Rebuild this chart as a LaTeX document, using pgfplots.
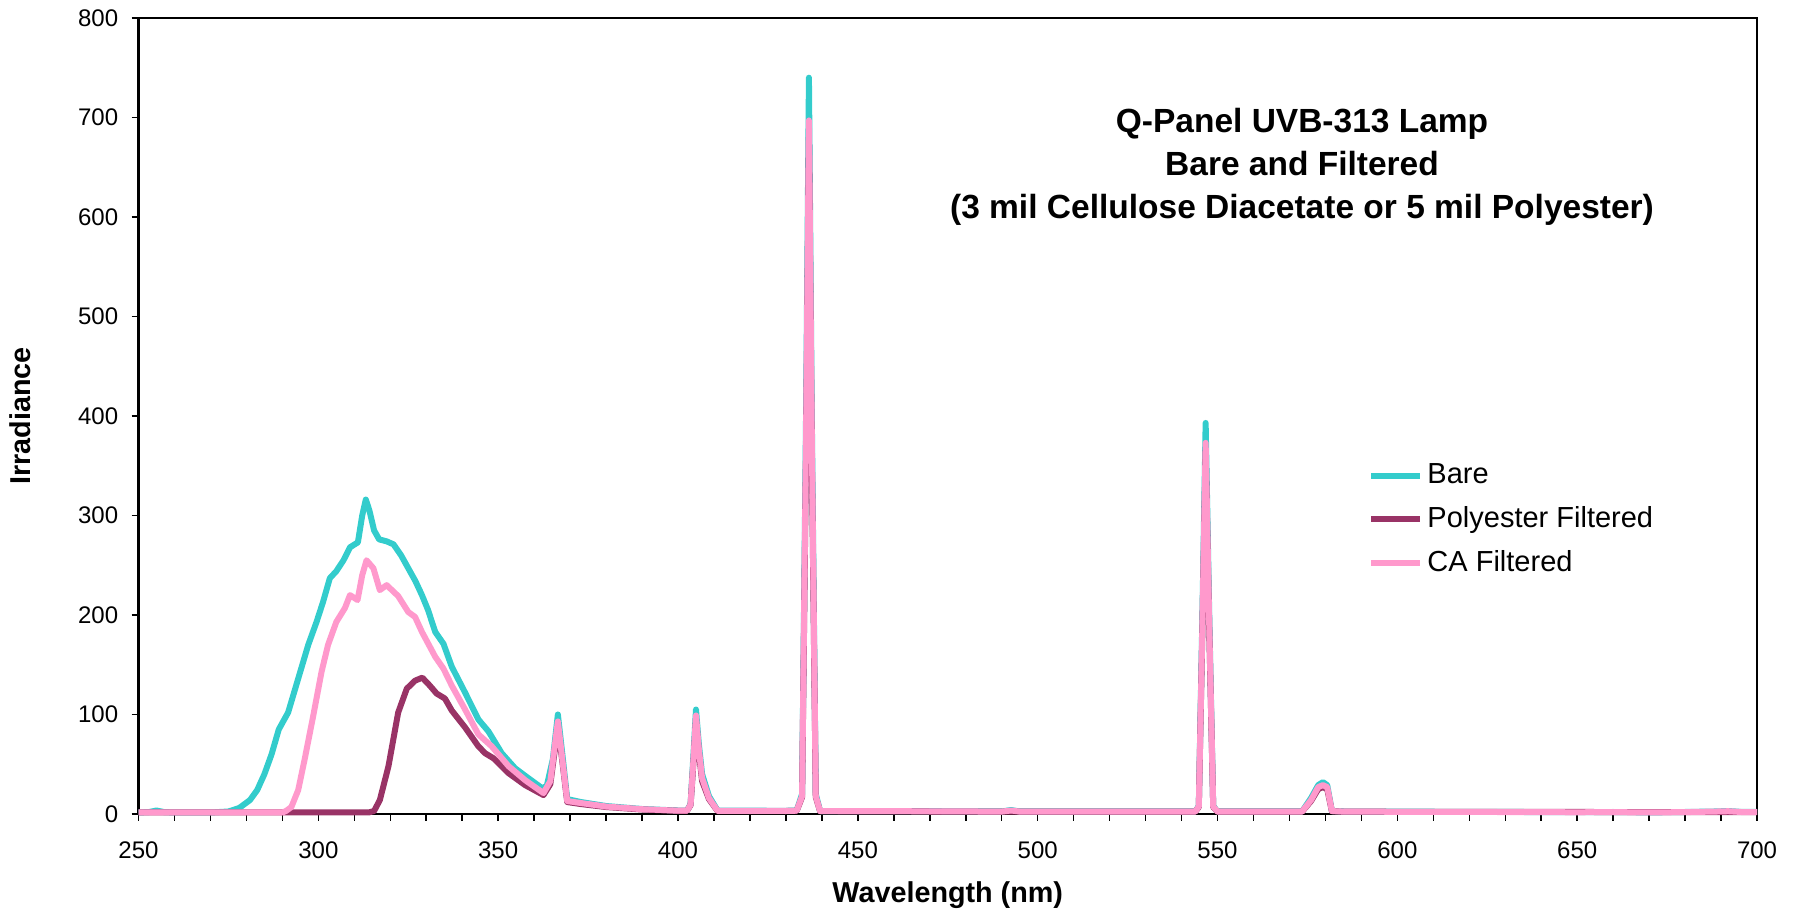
\documentclass[border=0pt]{standalone}
\usepackage{fontspec}
\setmainfont{Liberation Sans}
\usepackage{pgfplots}
\pgfplotsset{compat=1.18}
\usepackage{pgfplotstable}

\definecolor{bare}{HTML}{33CCCC}
\definecolor{poly}{HTML}{993366}
\definecolor{ca}{HTML}{FF99CC}

% wavelength (nm), irradiance
\pgfplotstableread{
x y
250 1.5
253 2
255 3.5
257 2
260 1.5
270 1.5
275 2.5
278 6
281 14
283 24
285 40
287 60
289 85
291.6 102
294.4 136
297.2 170
299.5 193
301.3 213
303.2 237
305 244
307 255
308.8 268
311 273
312.2 300
313.2 316
314.2 305
315.5 285
316.9 276
319 274
320.9 271
323 260
325 247
327 234
328.8 220
330.5 205
332.5 183
334.8 171
337.1 148
340.8 122
344.5 95
347.3 83
351 61
354.7 46
358.4 36
362.2 26
363.5 28
365.2 55
366.6 100
368 55
369.2 15
373 12
380 8
390 5
400 3.5
402.5 3.5
403.5 10
404.3 60
405 105
405.8 70
406.7 40
408.6 18
411 3.5
420 3.3
430 3.2
433 3.5
434.5 20
435.6 400
436.4 740
437.2 400
438.3 20
439.5 3
450 3
470 2.8
490 2.5
492.6 4
495 2.5
520 2.5
543.8 2.5
544.8 8
545.8 200
546.7 393
547.7 200
548.8 8
550 2.5
560 2.5
573.5 2.5
576 16
578 29
579.3 32
580.5 29
581.8 3
585 2.5
600 2.3
620 2.2
650 1.8
660 2
670 1.6
680 2
688 2.5
692 3
696 2
700 2
}\bare

\pgfplotstableread{
x y
250 1.5
314 1.5
315.5 3
317.1 14
319.5 48
322.2 102
324.6 126
326.9 134
328.9 137
331 129
332.9 121
335.2 116
337.1 104
340.8 87
344.5 68
346.4 61
348.7 56
352.9 41
357.5 29
362.6 19
364.5 30
366.6 88
368 48
369.2 12
373 10
380 7
390 4.5
400 3.2
402.5 3.2
403.5 9
404.3 52
405 95
405.8 62
406.7 33
408.6 15
411 3
430 3
433 3.2
434.5 17
435.6 360
436.4 680
437.2 360
438.3 17
439.5 2.8
490 2.3
543.8 2.3
544.8 7
545.8 185
546.7 365
547.7 185
548.8 7
550 2.3
573.5 2.3
576 13
578 25
579.3 27
580.5 25
581.8 2.8
585 2.3
700 1.8
}\poly

\pgfplotstableread{
x y
250 1.5
290 1.5
291 3
292.5 7
294.4 24
296.2 55
298.6 99
300.9 143
302.7 170
305 193
307.4 207
308.8 220
310.9 215
312.2 240
313.4 255
315.3 247
317.1 225
319 230
322.2 219
325 203
326.9 198
328.8 183
332.5 158
334.8 146
337.1 129
340.8 105
344.5 80
348.2 68
352.9 48
357.5 34
362.6 21
364.5 33
366.6 93
368 50
369.2 13
373 11
380 7.5
390 4.8
400 3.3
402.5 3.3
403.5 9.5
404.3 55
405 99
405.8 65
406.7 36
408.6 16
411 3.2
420 3.1
430 3
433 3.3
434.5 18
435.6 380
436.4 697
437.2 380
438.3 18
439.5 2.9
450 2.9
470 2.7
490 2.4
492.6 3.5
495 2.4
520 2.4
543.8 2.4
544.8 7.5
545.8 190
546.7 373
547.7 190
548.8 7.5
550 2.4
560 2.4
573.5 2.4
576 14
578 27
579.3 29
580.5 27
581.8 2.9
585 2.4
600 2.2
620 2.1
650 1.7
660 1.9
670 1.5
680 1.9
688 2.4
692 2.8
696 1.9
700 1.9
}\ca

\begin{document}
\begin{tikzpicture}
\begin{axis}[
    name=ax,
    scale only axis,
    width=647.4pt, height=318.4pt,
    xmin=250, xmax=700, ymin=0, ymax=800,
    xtick={250,300,...,700},
    minor xtick={260,270,...,690},
    ytick={0,100,...,800},
    xtick pos=lower, ytick pos=left,
    tick align=outside,
    major tick length=2.8pt, minor tick length=2.8pt,
    every tick/.style={black, line width=0.6pt},
    minor tick style={black, line width=0.6pt},
    axis line style={line width=0.9pt},
    tick label style={font=\fontsize{9.6}{11}\selectfont},
    xticklabel style={yshift=-4.6pt},
    yticklabel style={xshift=-1.8pt},
    /pgf/number format/assume math mode=true,
    /pgf/number format/1000 sep={},
    xlabel={Wavelength (nm)},
    ylabel={Irradiance},
    xlabel style={font=\bfseries\fontsize{11.5}{13}\selectfont, inner sep=0pt,
                  at={(axis description cs:0.5,0)}, anchor=center, yshift=-32.4pt},
    ylabel style={font=\bfseries\fontsize{11.5}{13}\selectfont, inner sep=0pt,
                  at={(axis description cs:0,0.5)}, anchor=center, yshift=47.2pt},
    legend style={at={(rel axis cs:0.755,0.453)}, anchor=north west,
                  draw=none, fill=none, font=\fontsize{11.6}{13.5}\selectfont,
                  row sep=3.6pt,
                  nodes={inner xsep=1.6pt}},
    legend cell align=left,
    legend image code/.code={\draw[#1] (0pt,0pt) -- (19.6pt,0pt);},
    every axis plot/.append style={line width=2.4pt, line join=round},
    clip=false,
  ]
  \addplot[bare, no markers] table[x=x, y=y] {\bare};
  \addlegendentry{Bare}
  \addplot[poly, no markers] table[x=x, y=y] {\poly};
  \addlegendentry{Polyester Filtered}
  \addplot[ca, no markers] table[x=x, y=y] {\ca};
  \addlegendentry{CA Filtered}
  \node[align=center, font=\bfseries\fontsize{13.4}{17.2}\selectfont]
    at (axis cs:573.5,650)
    {Q-Panel UVB-313 Lamp\\Bare and Filtered\\(3 mil Cellulose Diacetate or 5 mil Polyester)};
\end{axis}
\path ([xshift=-55.4pt,yshift=-38.8pt]ax.south west)
  rectangle ([xshift=15.2pt,yshift=7.2pt]ax.north east);
\end{tikzpicture}
\end{document}
